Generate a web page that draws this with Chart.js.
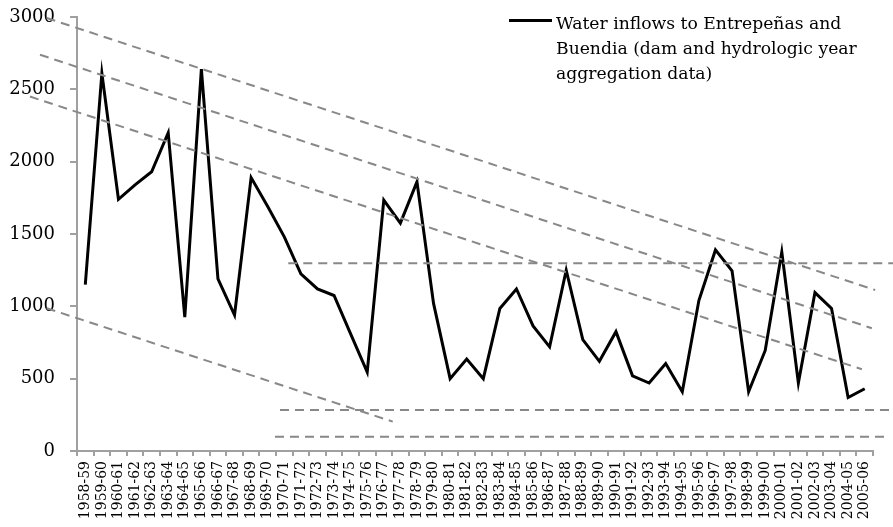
<!DOCTYPE html>
<html>
<head>
<meta charset="utf-8">
<script src="https://cdn.jsdelivr.net/npm/chart.js@4.4.1/dist/chart.umd.min.js"></script>
<style>
  html, body { margin: 0; padding: 0; background: #fff; }
  #wrap { position: relative; width: 893px; height: 527px; }
  #legend { position: absolute; left: 509px; top: 11px; font-family: "DejaVu Serif", serif; font-size: 17.2px; line-height: 25px; color: #000; }
  #legend .sw { position: absolute; left: 0; top: 8px; width: 43px; height: 0; border-top: 3px solid #000; }
  #legend .tx { margin-left: 47px; white-space: nowrap; }
</style>
</head>
<body>
<div id="wrap">
  <canvas id="c" width="893" height="527"></canvas>
  <div id="legend"></div>
</div>
<script>
const categories = ['1958-59','1959-60','1960-61','1961-62','1962-63','1963-64','1964-65','1965-66','1966-67','1967-68',
  '1968-69','1969-70','1970-71','1971-72','1972-73','1973-74','1974-75','1975-76','1976-77','1977-78',
  '1978-79','1979-80','1980-81','1981-82','1982-83','1983-84','1984-85','1985-86','1986-87','1987-88',
  '1988-89','1989-90','1990-91','1991-92','1992-93','1993-94','1994-95','1995-96','1996-97','1997-98',
  '1998-99','1999-00','2000-01','2001-02','2002-03','2003-04','2004-05','2005-06'];

const inflows = [1150, 2610, 1740, 1840, 1930, 2200, 925, 2640, 1190, 940,
  1890, 1690, 1480, 1225, 1120, 1075, 810, 545, 1735, 1575,
  1860, 1020, 500, 635, 500, 985, 1120, 865, 720, 1250,
  770, 620, 825, 520, 470, 605, 410, 1040, 1390, 1245,
  410, 695, 1375, 470, 1095, 985, 370, 430];

const seriesLabelLines = ['Water inflows to Entrepeñas and', 'Buendia (dam and hydrologic year', 'aggregation data)'];
const seriesLabel = seriesLabelLines.join(' ');

const yTicks = [0, 500, 1000, 1500, 2000, 2500, 3000];

// dashed guide lines, in data units: x = category index (fractional), y = inflow value
const trendTop    = [{x: -2.33, y: 2993}, {x: 47.63, y: 1113}];
const trendMid    = [{x: -2.73, y: 2739}, {x: 47.43, y: 849}];
const trendLow    = [{x: -3.34, y: 2450}, {x: 46.83, y: 565}];
const trendBottom = [{x: -2.33, y: 987},  {x: 18.54, y: 203}];
const levelHigh   = [{x: 12.24, y: 1298}, {x: 48.71, y: 1298}];
const levelMid    = [{x: 11.74, y: 284},  {x: 48.71, y: 284}];
const levelLow    = [{x: 11.44, y: 99},   {x: 48.41, y: 99}];

const dashStyle = { borderColor: '#888888', borderWidth: 2, borderDash: [9, 6], pointRadius: 0, fill: false,
  xAxisID: 'xt', yAxisID: 'y', clip: false, order: 0, tension: 0 };

const guides = [trendTop, trendMid, trendLow, trendBottom, levelHigh, levelMid, levelLow];

const datasets = [{
  label: seriesLabel,
  data: inflows,
  borderColor: '#000',
  borderWidth: 3,
  pointRadius: 0,
  tension: 0,
  fill: false,
  xAxisID: 'x',
  yAxisID: 'y',
  order: 1
}].concat(guides.map((g, i) => Object.assign({ label: 'guide' + i, data: g }, dashStyle)));

const legend = document.getElementById('legend');
legend.innerHTML = '<div class="sw"></div><div class="tx">' + seriesLabelLines.join('<br>') + '</div>';

const axisColor = '#a0a0a0';
const serif = '"DejaVu Serif", serif';

new Chart(document.getElementById('c'), {
  type: 'line',
  data: { labels: categories, datasets: datasets },
  options: {
    responsive: false,
    animation: false,
    layout: { padding: { top: 17, right: 20, left: 0, bottom: 0 } },
    plugins: { legend: { display: false }, tooltip: { enabled: false } },
    scales: {
      x: {
        type: 'category',
        offset: true,
        grid: { offset: true, drawOnChartArea: false, drawTicks: true, tickLength: 5, color: axisColor, lineWidth: 2 },
        border: { display: true, color: axisColor, width: 2 },
        ticks: { autoSkip: false, maxRotation: 90, minRotation: 90, padding: 5, color: '#000',
                 font: { family: serif, size: 14 } },
        afterFit: (s) => { s.height = 76; }
      },
      xt: {
        type: 'linear',
        display: false,
        min: -0.5,
        max: categories.length - 0.5
      },
      y: {
        type: 'linear',
        min: 0,
        max: 3000,
        afterBuildTicks: (s) => { s.ticks = yTicks.map(v => ({ value: v })); },
        grid: { drawOnChartArea: false, drawTicks: true, tickLength: 7, color: axisColor, lineWidth: 2 },
        border: { display: true, color: axisColor, width: 2 },
        ticks: { padding: 15, color: '#000', font: { family: serif, size: 18 },
                 callback: (v) => String(v) },
        afterFit: (s) => { s.width = 77; s.paddingTop = 0; s.paddingBottom = 0; }
      }
    }
  }
});
</script>
</body>
</html>
